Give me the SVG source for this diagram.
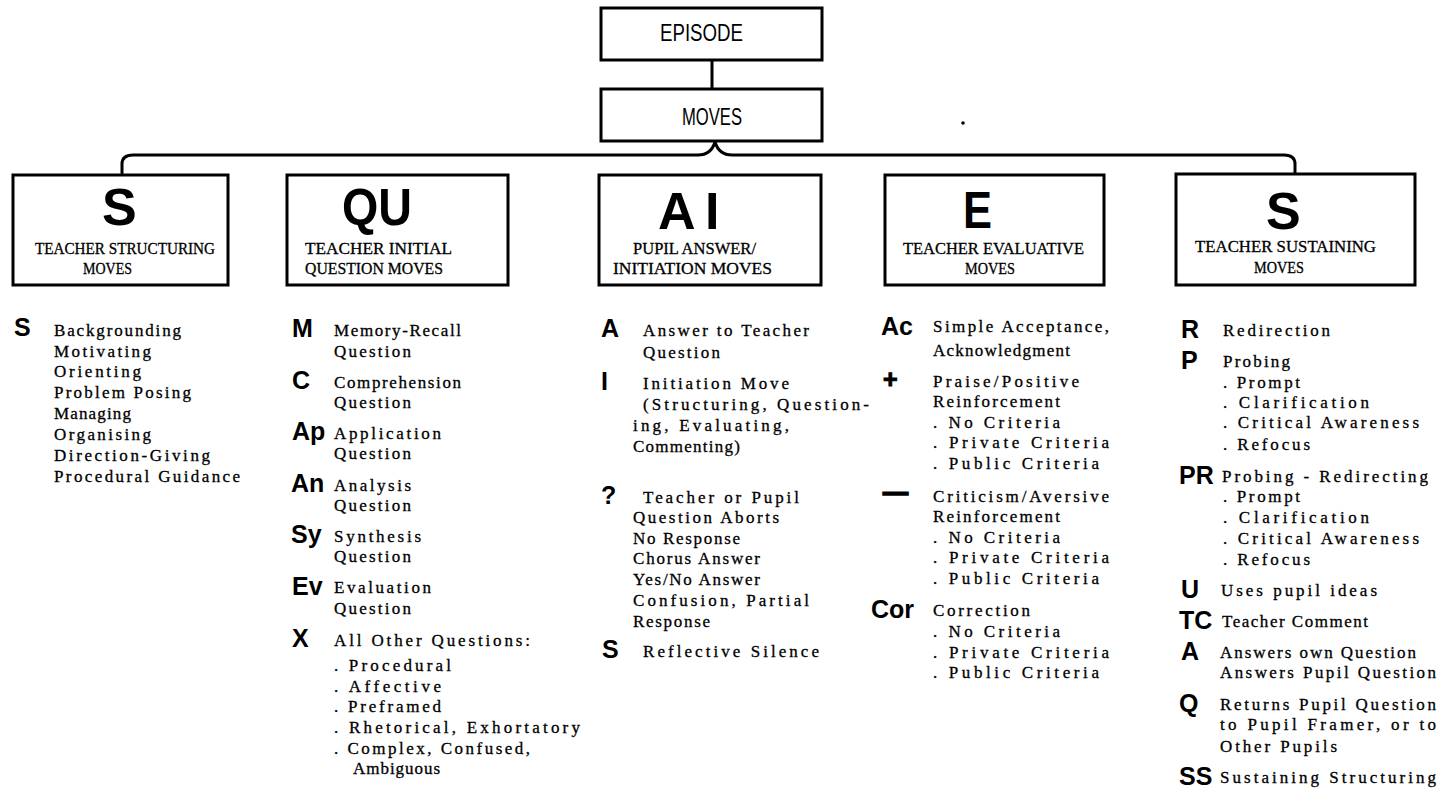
<svg xmlns="http://www.w3.org/2000/svg" width="1448" height="789" viewBox="0 0 1448 789">
  <style>
    .box { fill: #fff; stroke: #000; stroke-width: 3; }
    .wire { fill: none; stroke: #000; stroke-width: 3; stroke-linecap: round; stroke-linejoin: round; }
    .hdr { font-family: "Liberation Sans", Arial, sans-serif; font-size: 23px; fill: #000; }
    .big { font-family: "Liberation Sans", Arial, sans-serif; font-weight: bold; font-size: 52px; fill: #000; }
    .lbl { font-family: "Liberation Serif", "Times New Roman", serif; font-size: 16.5px; fill: #000; stroke: #000; stroke-width: 0.3; }
    .code { font-family: "Liberation Sans", Arial, sans-serif; font-weight: bold; font-size: 25px; fill: #000; }
    .txt { font-family: "Liberation Serif", "Times New Roman", serif; font-size: 17px; fill: #000; stroke: #000; stroke-width: 0.3; }
  </style>
  <rect width="1448" height="789" fill="#fff"/>

  <!-- connectors: episode to moves, and the brace spanning the five move types -->
  <g id="connectors">
    <line class="wire" x1="712" y1="60" x2="712" y2="89"/>
    <path class="wire" d="M122 173 L122 164 Q122 155 133 155 L698 155 Q711 155 715 142 Q719 155 732 155 L1284 155 Q1295 155 1295 164 L1295 173"/>
  </g>

  <g id="episode">
    <rect class="box" x="601" y="8" width="221" height="52"/>
    <text class="hdr" x="660" y="41" textLength="83" lengthAdjust="spacingAndGlyphs">EPISODE</text>
  </g>
  <g id="moves">
    <rect class="box" x="601" y="89" width="221" height="52"/>
    <text class="hdr" x="682" y="125" textLength="60" lengthAdjust="spacingAndGlyphs">MOVES</text>
  </g>
  <circle cx="963" cy="123" r="1.8" fill="#000"/>

  <!-- the five move-type boxes; typewriter labels are set on a fixed pitch -->
  <g id="box-structuring">
    <rect class="box" x="13" y="175" width="215" height="110"/>
    <text class="big" x="102" y="225">S</text>
    <text class="lbl" x="35" y="254" textLength="180" lengthAdjust="spacingAndGlyphs">TEACHER STRUCTURING</text>
    <text class="lbl" x="83" y="274" textLength="49" lengthAdjust="spacingAndGlyphs">MOVES</text>
  </g>
  <g id="box-question">
    <rect class="box" x="287" y="175" width="221" height="110"/>
    <text class="big" x="342" y="225" textLength="70" lengthAdjust="spacingAndGlyphs">QU</text>
    <text class="lbl" x="305" y="254" textLength="147" lengthAdjust="spacingAndGlyphs">TEACHER INITIAL</text>
    <text class="lbl" x="305" y="274" textLength="138" lengthAdjust="spacingAndGlyphs">QUESTION MOVES</text>
  </g>
  <g id="box-answer">
    <rect class="box" x="599" y="175" width="222" height="110"/>
    <text class="big" x="658" y="229">A</text>
    <text class="big" x="705" y="229">I</text>
    <text class="lbl" x="633" y="254" textLength="123" lengthAdjust="spacingAndGlyphs">PUPIL ANSWER/</text>
    <text class="lbl" x="613" y="274" textLength="159" lengthAdjust="spacingAndGlyphs">INITIATION MOVES</text>
  </g>
  <g id="box-evaluative">
    <rect class="box" x="885" y="175" width="219" height="110"/>
    <text class="big" x="963" y="228" textLength="29" lengthAdjust="spacingAndGlyphs">E</text>
    <text class="lbl" x="903" y="254" textLength="181" lengthAdjust="spacingAndGlyphs">TEACHER EVALUATIVE</text>
    <text class="lbl" x="965" y="274" textLength="50" lengthAdjust="spacingAndGlyphs">MOVES</text>
  </g>
  <g id="box-sustaining">
    <rect class="box" x="1176" y="174" width="239" height="111"/>
    <text class="big" x="1266" y="229">S</text>
    <text class="lbl" x="1195" y="252" textLength="181" lengthAdjust="spacingAndGlyphs">TEACHER SUSTAINING</text>
    <text class="lbl" x="1254" y="273" textLength="50" lengthAdjust="spacingAndGlyphs">MOVES</text>
  </g>

  <!-- structuring categories; list text is set on a 9.9px pitch -->
  <g id="list-structuring">
    <text class="code" x="14" y="336" font-size="22">S</text>
    <text class="txt" x="54" y="336" textLength="127" lengthAdjust="spacing">Backgrounding</text>
    <text class="txt" x="54" y="357" textLength="97" lengthAdjust="spacing">Motivating</text>
    <text class="txt" x="54" y="377" textLength="87" lengthAdjust="spacing">Orienting</text>
    <text class="txt" x="54" y="398" textLength="137" lengthAdjust="spacing">Problem Posing</text>
    <text class="txt" x="54" y="419" textLength="77" lengthAdjust="spacing">Managing</text>
    <text class="txt" x="54" y="440" textLength="97" lengthAdjust="spacing">Organising</text>
    <text class="txt" x="54" y="461" textLength="156" lengthAdjust="spacing">Direction-Giving</text>
    <text class="txt" x="54" y="482" textLength="186" lengthAdjust="spacing">Procedural Guidance</text>
  </g>

  <!-- initial question categories -->
  <g id="list-question">
    <text class="code" x="292" y="337">M</text>
    <text class="code" x="292" y="389">C</text>
    <text class="code" x="292" y="440">Ap</text>
    <text class="code" x="291" y="492">An</text>
    <text class="code" x="291" y="543">Sy</text>
    <text class="code" x="292" y="595">Ev</text>
    <text class="code" x="292" y="647">X</text>
    <text class="txt" x="334" y="336" textLength="127" lengthAdjust="spacing">Memory-Recall</text>
    <text class="txt" x="334" y="357" textLength="77" lengthAdjust="spacing">Question</text>
    <text class="txt" x="334" y="388" textLength="127" lengthAdjust="spacing">Comprehension</text>
    <text class="txt" x="334" y="408" textLength="77" lengthAdjust="spacing">Question</text>
    <text class="txt" x="334" y="439" textLength="107" lengthAdjust="spacing">Application</text>
    <text class="txt" x="334" y="459" textLength="77" lengthAdjust="spacing">Question</text>
    <text class="txt" x="334" y="491" textLength="77" lengthAdjust="spacing">Analysis</text>
    <text class="txt" x="334" y="511" textLength="77" lengthAdjust="spacing">Question</text>
    <text class="txt" x="334" y="542" textLength="87" lengthAdjust="spacing">Synthesis</text>
    <text class="txt" x="334" y="562" textLength="77" lengthAdjust="spacing">Question</text>
    <text class="txt" x="334" y="593" textLength="97" lengthAdjust="spacing">Evaluation</text>
    <text class="txt" x="334" y="614" textLength="77" lengthAdjust="spacing">Question</text>
    <text class="txt" x="334" y="646" textLength="196" lengthAdjust="spacing">All Other Questions:</text>
    <text class="txt" x="334" y="671" textLength="117" lengthAdjust="spacing">. Procedural</text>
    <text class="txt" x="334" y="692" textLength="107" lengthAdjust="spacing">. Affective</text>
    <text class="txt" x="334" y="712" textLength="107" lengthAdjust="spacing">. Preframed</text>
    <text class="txt" x="334" y="733" textLength="246" lengthAdjust="spacing">. Rhetorical, Exhortatory</text>
    <text class="txt" x="334" y="754" textLength="196" lengthAdjust="spacing">. Complex, Confused,</text>
    <text class="txt" x="353" y="774" textLength="87" lengthAdjust="spacing">Ambiguous</text>
  </g>

  <!-- pupil answer / initiation categories -->
  <g id="list-answer">
    <text class="code" x="601" y="337">A</text>
    <text class="code" x="601" y="390">I</text>
    <text class="code" x="601" y="504">?</text>
    <text class="code" x="602" y="658">S</text>
    <text class="txt" x="643" y="336" textLength="166" lengthAdjust="spacing">Answer to Teacher</text>
    <text class="txt" x="643" y="358" textLength="77" lengthAdjust="spacing">Question</text>
    <text class="txt" x="643" y="389" textLength="146" lengthAdjust="spacing">Initiation Move</text>
    <text class="txt" x="643" y="410" textLength="226" lengthAdjust="spacing">(Structuring, Question-</text>
    <text class="txt" x="633" y="431" textLength="156" lengthAdjust="spacing">ing, Evaluating,</text>
    <text class="txt" x="633" y="452" textLength="107" lengthAdjust="spacing">Commenting)</text>
    <text class="txt" x="643" y="503" textLength="156" lengthAdjust="spacing">Teacher or Pupil</text>
    <text class="txt" x="633" y="523" textLength="146" lengthAdjust="spacing">Question Aborts</text>
    <text class="txt" x="633" y="544" textLength="107" lengthAdjust="spacing">No Response</text>
    <text class="txt" x="633" y="564" textLength="127" lengthAdjust="spacing">Chorus Answer</text>
    <text class="txt" x="633" y="585" textLength="127" lengthAdjust="spacing">Yes/No Answer</text>
    <text class="txt" x="633" y="606" textLength="176" lengthAdjust="spacing">Confusion, Partial</text>
    <text class="txt" x="633" y="627" textLength="77" lengthAdjust="spacing">Response</text>
    <text class="txt" x="643" y="657" textLength="176" lengthAdjust="spacing">Reflective Silence</text>
  </g>

  <!-- evaluative categories -->
  <g id="list-evaluative">
    <text class="code" x="881" y="335">Ac</text>
    <text class="code" x="883" y="388" font-size="36" stroke="#000" stroke-width="1">+</text>
    <text class="code" x="883" y="501" font-size="27" stroke="#000" stroke-width="1.6">—</text>
    <text class="code" x="871" y="618">Cor</text>
    <text class="txt" x="933" y="332" textLength="176" lengthAdjust="spacing">Simple Acceptance,</text>
    <text class="txt" x="933" y="356" textLength="137" lengthAdjust="spacing">Acknowledgment</text>
    <text class="txt" x="933" y="387" textLength="146" lengthAdjust="spacing">Praise/Positive</text>
    <text class="txt" x="933" y="407" textLength="127" lengthAdjust="spacing">Reinforcement</text>
    <text class="txt" x="933" y="428" textLength="127" lengthAdjust="spacing">. No Criteria</text>
    <text class="txt" x="933" y="448" textLength="176" lengthAdjust="spacing">. Private Criteria</text>
    <text class="txt" x="933" y="469" textLength="166" lengthAdjust="spacing">. Public Criteria</text>
    <text class="txt" x="933" y="502" textLength="176" lengthAdjust="spacing">Criticism/Aversive</text>
    <text class="txt" x="933" y="522" textLength="127" lengthAdjust="spacing">Reinforcement</text>
    <text class="txt" x="933" y="543" textLength="127" lengthAdjust="spacing">. No Criteria</text>
    <text class="txt" x="933" y="563" textLength="176" lengthAdjust="spacing">. Private Criteria</text>
    <text class="txt" x="933" y="584" textLength="166" lengthAdjust="spacing">. Public Criteria</text>
    <text class="txt" x="933" y="616" textLength="97" lengthAdjust="spacing">Correction</text>
    <text class="txt" x="933" y="637" textLength="127" lengthAdjust="spacing">. No Criteria</text>
    <text class="txt" x="933" y="658" textLength="176" lengthAdjust="spacing">. Private Criteria</text>
    <text class="txt" x="933" y="678" textLength="166" lengthAdjust="spacing">. Public Criteria</text>
  </g>

  <!-- sustaining categories -->
  <g id="list-sustaining">
    <text class="code" x="1181" y="338">R</text>
    <text class="code" x="1181" y="369">P</text>
    <text class="code" x="1179" y="484">PR</text>
    <text class="code" x="1181" y="598">U</text>
    <text class="code" x="1179" y="629">TC</text>
    <text class="code" x="1181" y="660">A</text>
    <text class="code" x="1179" y="712">Q</text>
    <text class="code" x="1179" y="785">SS</text>
    <text class="txt" x="1223" y="336" textLength="107" lengthAdjust="spacing">Redirection</text>
    <text class="txt" x="1223" y="367" textLength="67" lengthAdjust="spacing">Probing</text>
    <text class="txt" x="1223" y="388" textLength="77" lengthAdjust="spacing">. Prompt</text>
    <text class="txt" x="1223" y="408" textLength="146" lengthAdjust="spacing">. Clarification</text>
    <text class="txt" x="1223" y="428" textLength="196" lengthAdjust="spacing">. Critical Awareness</text>
    <text class="txt" x="1223" y="450" textLength="87" lengthAdjust="spacing">. Refocus</text>
    <text class="txt" x="1222" y="482" textLength="206" lengthAdjust="spacing">Probing - Redirecting</text>
    <text class="txt" x="1223" y="502" textLength="77" lengthAdjust="spacing">. Prompt</text>
    <text class="txt" x="1223" y="523" textLength="146" lengthAdjust="spacing">. Clarification</text>
    <text class="txt" x="1223" y="544" textLength="196" lengthAdjust="spacing">. Critical Awareness</text>
    <text class="txt" x="1223" y="565" textLength="87" lengthAdjust="spacing">. Refocus</text>
    <text class="txt" x="1221" y="596" textLength="156" lengthAdjust="spacing">Uses pupil ideas</text>
    <text class="txt" x="1222" y="627" textLength="146" lengthAdjust="spacing">Teacher Comment</text>
    <text class="txt" x="1220" y="658" textLength="196" lengthAdjust="spacing">Answers own Question</text>
    <text class="txt" x="1220" y="678" textLength="216" lengthAdjust="spacing">Answers Pupil Question</text>
    <text class="txt" x="1220" y="710" textLength="216" lengthAdjust="spacing">Returns Pupil Question</text>
    <text class="txt" x="1220" y="730" textLength="216" lengthAdjust="spacing">to Pupil Framer, or to</text>
    <text class="txt" x="1220" y="752" textLength="117" lengthAdjust="spacing">Other Pupils</text>
    <text class="txt" x="1220" y="783" textLength="216" lengthAdjust="spacing">Sustaining Structuring</text>
  </g>
</svg>
